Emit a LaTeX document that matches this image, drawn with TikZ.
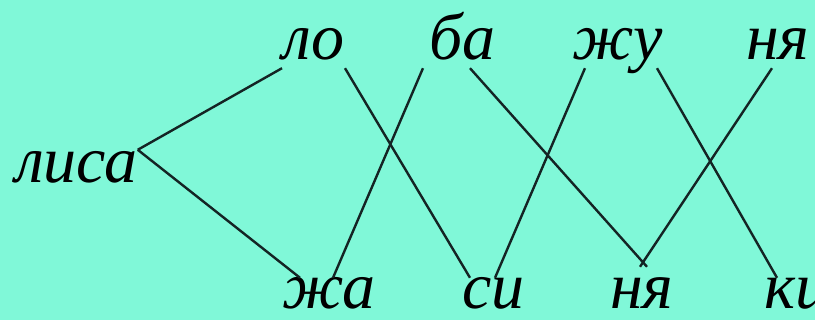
\documentclass[tikz,border=0pt]{standalone}
\usepackage{fontspec}
\setmainfont{Liberation Serif}
\definecolor{aqua}{RGB}{128,248,216}
\definecolor{ink}{RGB}{20,36,36}
\tikzset{
  syl/.style={inner sep=0pt,anchor=base west,text height=33pt,text depth=8pt,
    font=\fontsize{66}{66}\selectfont\itshape},
  sylb/.style={syl,text depth=1pt},
  link/.style={ink,line width=2.4pt}
}
\begin{document}
\begin{tikzpicture}[x=1pt,y=1pt]
\fill[aqua] (0,0) rectangle (815,320);
\useasboundingbox (0,0) rectangle (815,320);
% word
\node[syl] (lisa) at (15,137) {лиса};
% top row
\node[syl] (lo) at (282,260) {ло};
\node[syl] (ba) at (429,260) {ба};
\node[syl] (zhu) at (572,260) {жу};
\node[syl] (nyaT) at (746,260) {ня};
% bottom row
\node[sylb] (zha) at (282,11) {жа};
\node[sylb] (si) at (462,11) {си};
\node[sylb] (nyaB) at (610,11) {ня};
\node[sylb] (ki) at (764,11) {ки};

\draw[link] (lisa.north east) -- (lo.south west);
\draw[link] (lisa.north east) -- ([xshift=18pt,yshift=-2pt]zha.north west);
\draw[link] (lo.south east) -- ([xshift=8pt,yshift=-2pt]si.north west);
\draw[link] ([xshift=-6pt]ba.south west) -- ([xshift=51pt,yshift=-2pt]zha.north west);
\draw[link] ([xshift=41pt]ba.south west) -- ([xshift=37pt,yshift=9pt]nyaB.north west);
\draw[link] ([xshift=13pt]zhu.south west) -- ([xshift=33pt,yshift=-2pt]si.north west);
\draw[link] ([xshift=85pt]zhu.south west) -- ([xshift=13pt,yshift=-2pt]ki.north west);
\draw[link] ([xshift=26pt]nyaT.south west) -- ([xshift=30pt,yshift=9pt]nyaB.north west);
\end{tikzpicture}
\end{document}
